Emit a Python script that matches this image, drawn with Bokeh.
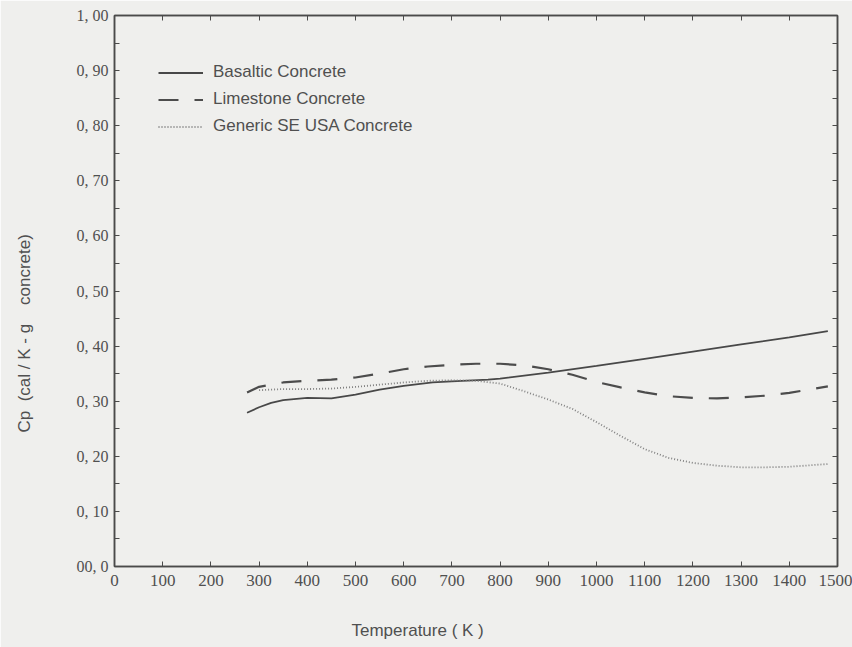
from bokeh.plotting import figure
from bokeh.models import (FixedTicker, LinearAxis, Range1d, Legend, LegendItem,
                          Title, CustomJSTickFormatter)
from bokeh.embed import file_html
from bokeh.resources import INLINE

# ---- data ----
basalt_T = [275, 300, 325, 350, 400, 450, 500, 550, 600, 660, 700, 775, 800, 900, 1000, 1100, 1200, 1300, 1400, 1480]
basalt_cp = [0.279, 0.289, 0.297, 0.302, 0.306, 0.305, 0.312, 0.321, 0.328, 0.334, 0.336, 0.339, 0.341, 0.352,
             0.364, 0.377, 0.390, 0.403, 0.416, 0.427]

limestone_T = [275, 300, 350, 400, 450, 500, 550, 600, 650, 700, 750, 800, 850, 900, 950, 1000, 1050, 1100,
               1150, 1200, 1250, 1300, 1350, 1400, 1480]
limestone_cp = [0.316, 0.326, 0.334, 0.337, 0.339, 0.343, 0.350, 0.358, 0.363, 0.366, 0.368, 0.368, 0.365,
                0.358, 0.348, 0.335, 0.325, 0.316, 0.309, 0.306, 0.305, 0.307, 0.310, 0.315, 0.327]

generic_T = [300, 350, 400, 450, 500, 550, 600, 650, 700, 750, 800, 850, 900, 950, 1000, 1050, 1100, 1150,
             1200, 1250, 1300, 1350, 1400, 1480]
generic_cp = [0.320, 0.322, 0.322, 0.323, 0.326, 0.330, 0.334, 0.337, 0.338, 0.337, 0.332, 0.318, 0.303,
              0.286, 0.262, 0.237, 0.213, 0.197, 0.188, 0.183, 0.180, 0.180, 0.181, 0.186]

series_names = ["Basaltic Concrete", "Limestone Concrete", "Generic SE USA Concrete"]

x_ticks = [0, 100, 200, 300, 400, 500, 600, 700, 800, 900, 1000, 1100, 1200, 1300, 1400, 1500]
y_ticks = [0.0, 0.1, 0.2, 0.3, 0.4, 0.5, 0.6, 0.7, 0.8, 0.9, 1.0]
y_tick_labels = ["00, 0", "0, 10", "0, 20", "0, 30", "0, 40", "0, 50", "0, 60", "0, 70", "0, 80", "0, 90", "1, 00"]
y_minor = [0.05, 0.15, 0.25, 0.35, 0.45, 0.55, 0.65, 0.75, 0.85, 0.95]

x_label = "Temperature ( K )"
y_label = "Cp\u00a0\u00a0(cal / K - g\u00a0\u00a0\u00a0\u00a0concrete)"

# ---- styling ----
BG = "#efefed"
INK = "#4a4a4a"
TXT = "#505050"
SANS = "Liberation Sans, Arial, sans-serif"
SERIF = "Liberation Serif, serif"

p = figure(width=852, height=647, output_backend="svg", toolbar_location=None,
           x_range=Range1d(0, 1500), y_range=Range1d(0, 1.0),
           min_border_left=114, min_border_right=15, min_border_top=15, min_border_bottom=81,
           background_fill_color=BG, border_fill_color=BG)
p.grid.visible = False
p.outline_line_color = INK
p.outline_line_width = 1.5

xa = p.xaxis[0]
xa.ticker = FixedTicker(ticks=x_ticks)
ya = p.yaxis[0]
ya.ticker = FixedTicker(ticks=y_ticks, minor_ticks=y_minor)
ya.major_label_overrides = dict(zip(y_ticks, y_tick_labels))

for ax in (xa, ya):
    ax.axis_line_color = INK
    ax.axis_line_width = 1.5
    ax.major_tick_in = 5
    ax.major_tick_out = 0
    ax.minor_tick_in = 5
    ax.minor_tick_out = 0
    ax.major_tick_line_color = INK
    ax.minor_tick_line_color = INK
    ax.major_label_text_font = SERIF
    ax.major_label_text_color = TXT
xa.major_label_text_font_size = "17px"
ya.major_label_text_font_size = "16px"
xa.major_label_standoff = 8
ya.major_label_standoff = 6

blank = CustomJSTickFormatter(code="return ''")
top = LinearAxis(ticker=FixedTicker(ticks=x_ticks), formatter=blank)
right = LinearAxis(ticker=FixedTicker(ticks=y_ticks + y_minor), formatter=blank)
for ax in (top, right):
    ax.axis_line_color = INK
    ax.axis_line_width = 1.5
    ax.major_tick_in = 5
    ax.major_tick_out = 0
    ax.minor_tick_line_color = None
    ax.major_tick_line_color = INK
    ax.major_label_standoff = 0
p.add_layout(top, "above")
p.add_layout(right, "right")

# invisible spacer axes: push the axis titles outward
spacer_b = LinearAxis(ticker=FixedTicker(ticks=x_ticks), formatter=blank)
spacer_l = LinearAxis(ticker=FixedTicker(ticks=y_ticks), formatter=blank)
spacer_b.major_tick_out = 30
spacer_l.major_tick_out = 40
for ax in (spacer_b, spacer_l):
    ax.axis_line_color = None
    ax.major_tick_line_color = None
    ax.minor_tick_line_color = None
    ax.major_tick_in = 0
    ax.minor_tick_out = 0
    ax.major_label_standoff = 0
p.add_layout(spacer_b, "below")
p.add_layout(spacer_l, "left")

r1 = p.line(basalt_T, basalt_cp, line_color="#484848", line_width=1.8)
r2 = p.line(limestone_T, limestone_cp, line_color="#4c4c4c", line_width=2.2, line_dash="20 16")
r3 = p.line(generic_T, generic_cp, line_color="#808080", line_width=1.8, line_dash="1 2")

legend = Legend(items=[LegendItem(label=series_names[0], renderers=[r1]),
                       LegendItem(label=series_names[1], renderers=[r2]),
                       LegendItem(label=series_names[2], renderers=[r3])],
                location=(44, 430), padding=0, margin=0, spacing=7,
                glyph_width=45, glyph_height=17, label_height=17, label_standoff=10,
                border_line_color=None, background_fill_alpha=0,
                label_text_font=SANS, label_text_font_size="17px", label_text_color=TXT)
p.add_layout(legend, "center")

xt = Title(text=x_label, align="left", offset=237, standoff=0,
           text_font=SANS, text_font_size="17px", text_font_style="normal", text_color=TXT)
p.add_layout(xt, "below")
yt = Title(text=y_label, align="left", offset=134, standoff=0,
           text_font=SANS, text_font_size="17px", text_font_style="normal", text_color=TXT)
p.add_layout(yt, "left")

open("out.html", "w").write(file_html(p, INLINE))
